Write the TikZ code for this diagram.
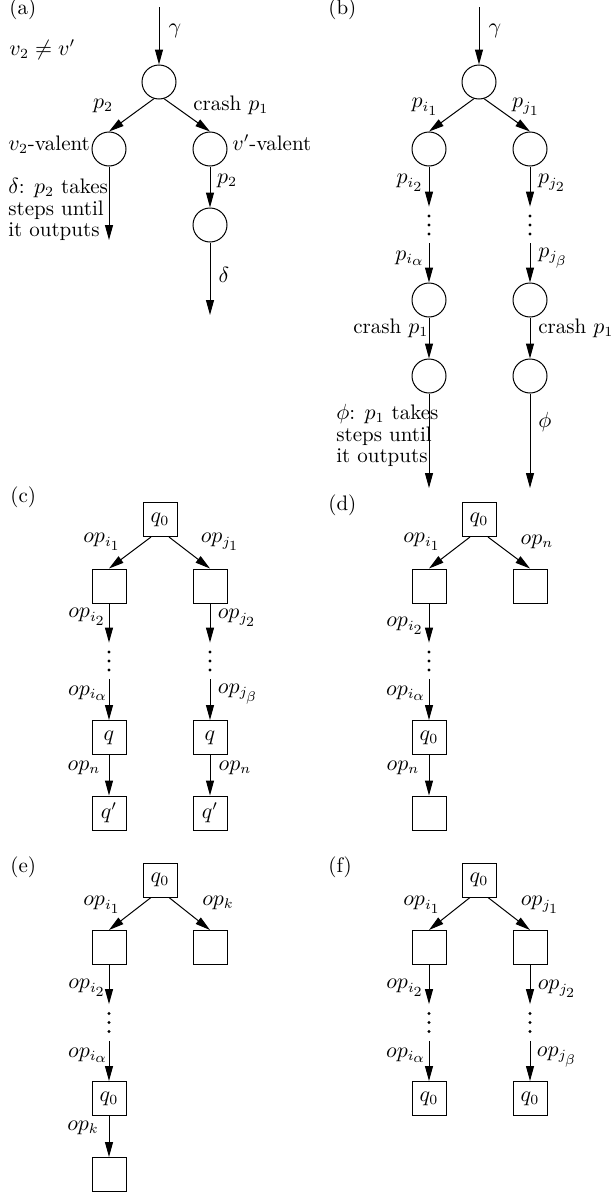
\documentclass[tikz,border=0pt]{standalone}
\usetikzlibrary{arrows.meta}
\newcommand\sst[1]{{\scriptstyle #1}}
\begin{document}
\begin{tikzpicture}[x=0.5pt,y=-0.5pt,
  every node/.style={font=\fontsize{10.5}{10.75}\selectfont},
  circ/.style={draw, circle, minimum size=17pt, inner sep=0pt, line width=0.5pt},
  sq/.style={draw, rectangle, minimum size=17pt, inner sep=0pt, line width=0.5pt},
  lbl/.style={inner sep=0pt},
  arr/.style={-{Triangle[length=7.5pt,width=4pt]}, line width=0.5pt},
  vd/.style={inner sep=0pt, minimum height=18pt, minimum width=3pt,
    path picture={\fill (path picture bounding box.center) circle (0.8pt)
      ++(0,4.5pt) circle (0.8pt) ++(0,-9pt) circle (0.8pt);}}]
\useasboundingbox (0,0) rectangle (612,1194);

% ---------------- (a)
\node[lbl, anchor=base west] (ta) at (9,14) {(a)};
\node[lbl, anchor=base west] (neq) at (9,55) {$v_2\neq v'$};
\coordinate (a0) at (159,7);
\node[circ] (a1) at (159,82) {};
\node[circ] (a2) at (109,149) {};
\node[circ] (a3) at (210,149) {};
\node[circ] (a4) at (210,225) {};
\coordinate (a2e) at (109,240);
\coordinate (a4e) at (210,315);
\draw[arr] (a0) -- (a1);
\draw[arr] (a1.253) -- (a2.north);
\draw[arr] (a1.287) -- (a3.north);
\draw[arr] (a2) -- (a2e);
\draw[arr] (a3) -- (a4);
\draw[arr] (a4) -- (a4e);
\node[lbl] (aga) at (175,31) {$\gamma$};
\node[lbl] (ap2) at (103,106) {$p_2$};
\node[lbl, anchor=base west] (acr) at (193,110) {crash $p_1$};
\node[lbl, anchor=base west] (av2) at (8,150) {$v_2$-valent};
\node[lbl, anchor=base west] (avp) at (232,150) {$v'$-valent};
\node[lbl, anchor=north west, align=left] (adl) at (8,178) {$\delta$: $p_2$ takes\\steps until\\it outputs};
\node[lbl] (ap2b) at (227,181) {$p_2$};
\node[lbl] (adr) at (224,275) {$\delta$};

% ---------------- (b)
\node[lbl, anchor=base west] (tb) at (328,14) {(b)};
\coordinate (b0) at (479,7);
\node[circ] (b1) at (479,82) {};
\node[circ] (b2) at (429,149) {};
\node[circ] (b3) at (530,149) {};
\node[vd] (bd1) at (429,225) {};
\node[vd] (bd2) at (530,225) {};
\node[circ] (b4) at (429,300) {};
\node[circ] (b5) at (530,300) {};
\node[circ] (b6) at (429,376) {};
\node[circ] (b7) at (530,376) {};
\coordinate (b6e) at (429,488);
\coordinate (b7e) at (530,488);
\draw[arr] (b0) -- (b1);
\draw[arr] (b1.253) -- (b2.north);
\draw[arr] (b1.287) -- (b3.north);
\draw[arr] (b2) -- (bd1);
\draw[arr] (b3) -- (bd2);
\draw[arr] (bd1) -- (b4);
\draw[arr] (bd2) -- (b5);
\draw[arr] (b4) -- (b6);
\draw[arr] (b5) -- (b7);
\draw[arr] (b6) -- (b6e);
\draw[arr] (b7) -- (b7e);
\node[lbl] (bga) at (495,31) {$\gamma$};
\node[lbl] (bpi1) at (425,107) {$p_{i_\sst{1}}$};
\node[lbl] (bpj1) at (526,107) {$p_{j_\sst{1}}$};
\node[lbl] (bpi2) at (410,183) {$p_{i_\sst{2}}$};
\node[lbl] (bpj2) at (552,183) {$p_{j_\sst{2}}$};
\node[lbl] (bpia) at (410,258) {$p_{i_\sst{\alpha}}$};
\node[lbl] (bpjb) at (553,258) {$p_{j_\sst{\beta}}$};
\node[lbl, anchor=base west] (bcrl) at (353,333) {crash $p_1$};
\node[lbl, anchor=base west] (bcrr) at (538,333) {crash $p_1$};
\node[lbl, anchor=north west, align=left] (bph) at (336,404) {$\phi$: $p_1$ takes\\steps until\\it outputs};
\node[lbl] (bphr) at (545,422) {$\phi$};

% ---------------- (c)
\node[lbl, anchor=base west] (tc) at (10,502) {(c)};
\node[sq] (c1) at (160,519.5) {$q_0$};
\node[sq] (c2) at (109,586) {};
\node[sq] (c3) at (210,586) {};
\node[vd] (cd1) at (109,661) {};
\node[vd] (cd2) at (210,661) {};
\node[sq] (c4) at (109,737.5) {$q$};
\node[sq] (c5) at (210,737.5) {$q$};
\node[sq] (c6) at (109,813) {$q'$};
\node[sq] (c7) at (210,813) {$q'$};
\draw[arr] ([xshift=-4.5pt]c1.south) -- (c2.north);
\draw[arr] ([xshift=4.5pt]c1.south) -- (c3.north);
\draw[arr] (c2) -- (cd1);
\draw[arr] (c3) -- (cd2);
\draw[arr] (cd1) -- (c4);
\draw[arr] (cd2) -- (c5);
\draw[arr] (c4) -- (c6);
\draw[arr] (c5) -- (c7);
\node[lbl] (coi1) at (102,542) {$op_{i_\sst{1}}$};
\node[lbl] (coj1) at (220,542) {$op_{j_\sst{1}}$};
\node[lbl] (coi2) at (87,617) {$op_{i_\sst{2}}$};
\node[lbl] (coj2) at (237,618) {$op_{j_\sst{2}}$};
\node[lbl] (coia) at (88,693) {$op_{i_\sst{\alpha}}$};
\node[lbl] (cojb) at (238,694) {$op_{j_\sst{\beta}}$};
\node[lbl] (conl) at (84,768) {$op_n$};
\node[lbl] (conr) at (235,768) {$op_n$};

% ---------------- (d)
\node[lbl, anchor=base west] (td) at (328,510) {(d)};
\node[sq] (d1) at (479,519.5) {$q_0$};
\node[sq] (d2) at (429,586) {};
\node[sq] (d3) at (530,586) {};
\node[vd] (dd1) at (429,661) {};
\node[sq] (d4) at (429,737.5) {$q_0$};
\node[sq] (d5) at (429,813) {};
\draw[arr] ([xshift=-4.5pt]d1.south) -- (d2.north);
\draw[arr] ([xshift=4.5pt]d1.south) -- (d3.north);
\draw[arr] (d2) -- (dd1);
\draw[arr] (dd1) -- (d4);
\draw[arr] (d4) -- (d5);
\node[lbl] (doi1) at (422,542) {$op_{i_\sst{1}}$};
\node[lbl] (don1) at (537,542) {$op_n$};
\node[lbl] (doi2) at (405,626) {$op_{i_\sst{2}}$};
\node[lbl] (doia) at (406,693) {$op_{i_\sst{\alpha}}$};
\node[lbl] (don2) at (403,768) {$op_n$};

% ---------------- (e)
\node[lbl, anchor=base west] (te) at (10,872) {(e)};
\node[sq] (e1) at (160,880) {$q_0$};
\node[sq] (e2) at (109,947.5) {};
\node[sq] (e3) at (210,947.5) {};
\node[vd] (ed1) at (109,1022.5) {};
\node[sq] (e4) at (109,1098.5) {$q_0$};
\node[sq] (e5) at (109,1174.5) {};
\draw[arr] ([xshift=-4.5pt]e1.south) -- (e2.north);
\draw[arr] ([xshift=4.5pt]e1.south) -- (e3.north);
\draw[arr] (e2) -- (ed1);
\draw[arr] (ed1) -- (e4);
\draw[arr] (e4) -- (e5);
\node[lbl] (eoi1) at (102,905) {$op_{i_\sst{1}}$};
\node[lbl] (eok1) at (218,903) {$op_k$};
\node[lbl] (eoi2) at (87,988) {$op_{i_\sst{2}}$};
\node[lbl] (eoia) at (88,1055) {$op_{i_\sst{\alpha}}$};
\node[lbl] (eok2) at (83,1128) {$op_k$};

% ---------------- (f)
\node[lbl, anchor=base west] (tf) at (328,872) {(f)};
\node[sq] (f1) at (479,880) {$q_0$};
\node[sq] (f2) at (429,947.5) {};
\node[sq] (f3) at (530,947.5) {};
\node[vd] (fd1) at (429,1022.5) {};
\node[vd] (fd2) at (530,1022.5) {};
\node[sq] (f4) at (429,1098.5) {$q_0$};
\node[sq] (f5) at (530,1098.5) {$q_0$};
\draw[arr] ([xshift=-4.5pt]f1.south) -- (f2.north);
\draw[arr] ([xshift=4.5pt]f1.south) -- (f3.north);
\draw[arr] (f2) -- (fd1);
\draw[arr] (f3) -- (fd2);
\draw[arr] (fd1) -- (f4);
\draw[arr] (fd2) -- (f5);
\node[lbl] (foi1) at (422,905) {$op_{i_\sst{1}}$};
\node[lbl] (foj1) at (540,905) {$op_{j_\sst{1}}$};
\node[lbl] (foi2) at (405,988) {$op_{i_\sst{2}}$};
\node[lbl] (foj2) at (557,989) {$op_{j_\sst{2}}$};
\node[lbl] (foia) at (406,1055) {$op_{i_\sst{\alpha}}$};
\node[lbl] (fojb) at (557,1057) {$op_{j_\sst{\beta}}$};
\end{tikzpicture}
\end{document}
